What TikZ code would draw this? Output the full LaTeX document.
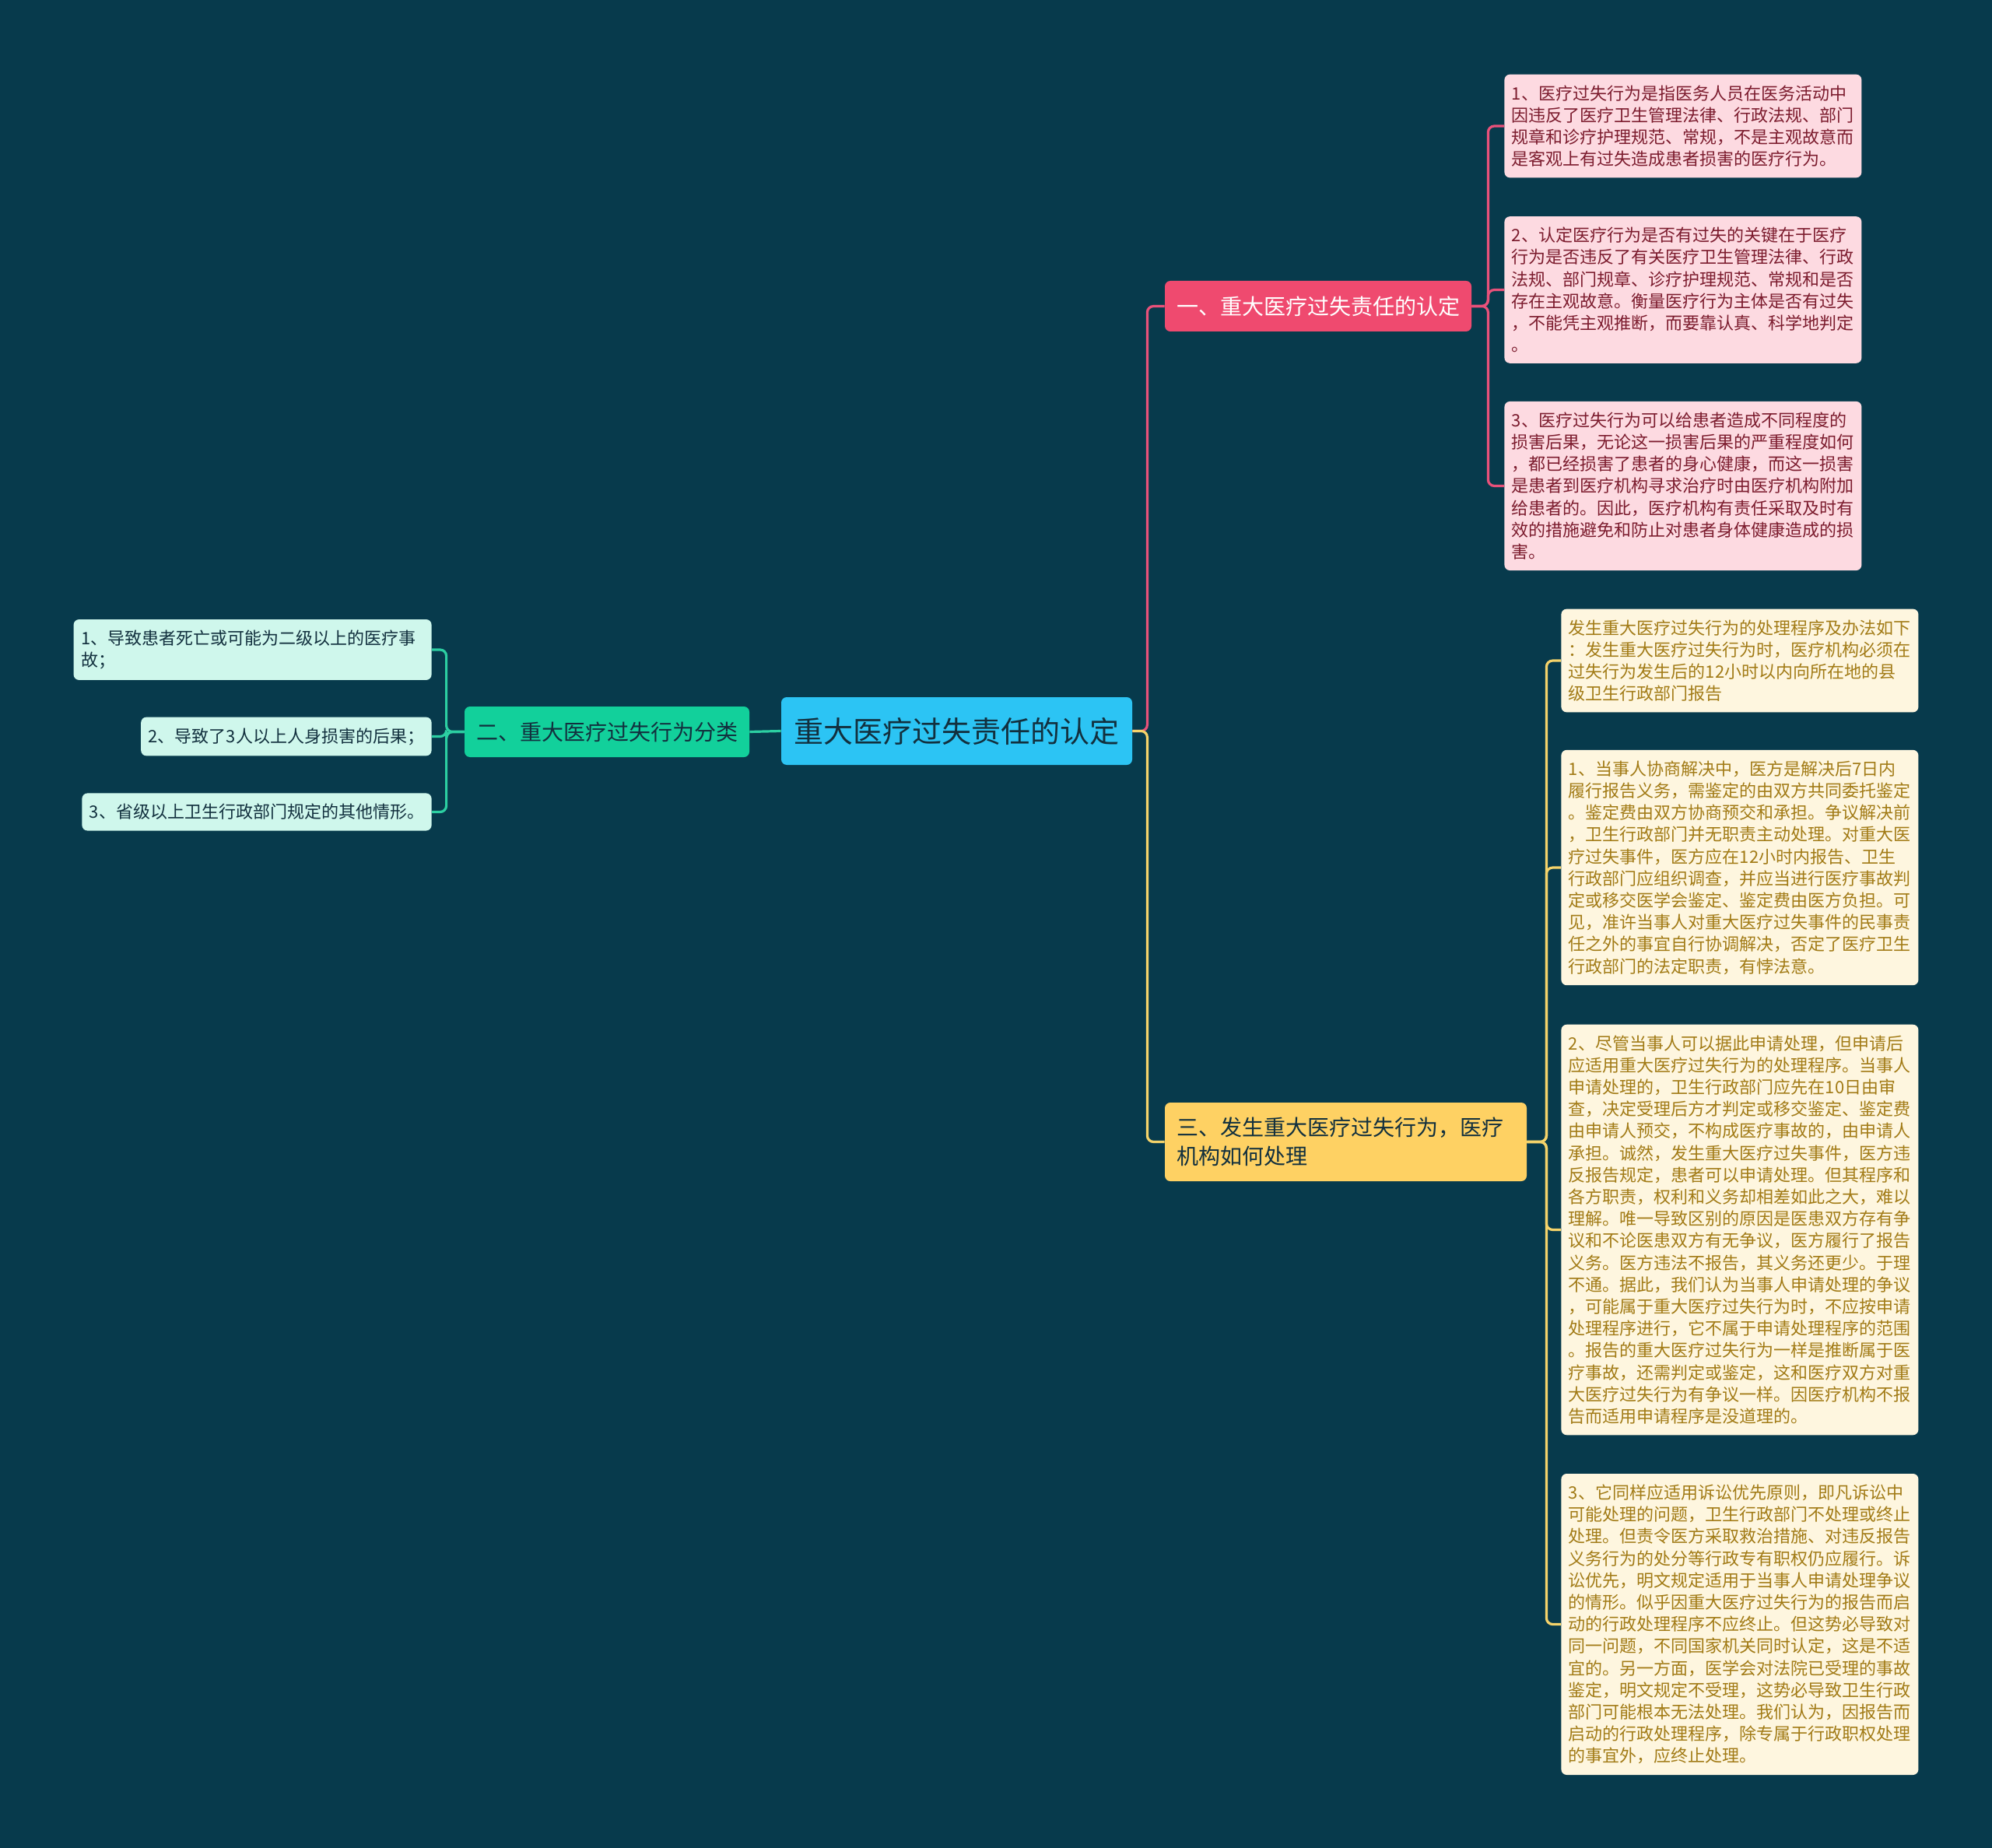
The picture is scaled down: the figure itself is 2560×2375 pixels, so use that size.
\documentclass[tikz,border=0pt]{standalone}
\usepackage{fontspec}
\newfontfamily\cjk{Noto Sans CJK SC}
\usepackage{tikz}
\definecolor{bgnavy}{HTML}{073A4C}
\definecolor{skyblue}{HTML}{2CC4F4}
\definecolor{rosered}{HTML}{EF4A6F}
\definecolor{jadegreen}{HTML}{12D09B}
\definecolor{sunyellow}{HTML}{FED163}
\definecolor{pinkleaf}{HTML}{FDDAE1}
\definecolor{creamleaf}{HTML}{FEF6DF}
\definecolor{mintleaf}{HTML}{CFF7EC}
\definecolor{winetext}{HTML}{7C1C2E}
\definecolor{goldtext}{HTML}{A27B16}
\definecolor{inktext}{HTML}{12303E}
\definecolor{roseline}{HTML}{E8517A}
\definecolor{sunline}{HTML}{F5D36A}
\definecolor{jadeline}{HTML}{2CCFA2}

\begin{document}
\begin{tikzpicture}[x=0.5pt,y=-0.5pt,
  rootbox/.style={fill=skyblue,rounded corners=3.5pt,minimum width=225.5pt,minimum height=43.5pt,text=inktext,font=\cjk\fontsize{19}{23}\selectfont},
  branch/.style={rounded corners=3.5pt,minimum height=32.5pt,inner xsep=7.5pt,font=\cjk\fontsize{14}{18.8}\selectfont},
  leaf/.style={rounded corners=3.5pt,inner xsep=4.75pt,inner ysep=6.9pt,align=left,font=\cjk\fontsize{11}{14.1}\selectfont},
  redleaf/.style={leaf,fill=pinkleaf,text=winetext,text width=220pt,anchor=west},
  yelleaf/.style={leaf,fill=creamleaf,text=goldtext,text width=220pt,anchor=west},
  grnleaf/.style={leaf,fill=mintleaf,text=inktext,anchor=east},
  link/.style={line width=1.6pt,rounded corners=4pt}
]
\fill[bgnavy] (0,0) rectangle (2560,2375);

% centre and main branches
\node[rootbox] (root) at (1229.5,939.5) {重大医疗过失责任的认定};
\node[branch,fill=rosered,text=white,minimum width=197pt] (red) at (1694,393.5) {一、重大医疗过失责任的认定};
\node[branch,fill=jadegreen,text=inktext,minimum width=182pt] (grn) at (780,940.5) {二、重大医疗过失行为分类};
\node[branch,fill=sunyellow,text=inktext,text width=217.5pt,align=left,minimum height=50.5pt] (yel) at (1729.5,1467.5) {三、发生重大医疗过失行为，医疗\\机构如何处理};

% branch one
\node[redleaf] (r1) at (1933,162) {1、医疗过失行为是指医务人员在医务活动中\\因违反了医疗卫生管理法律、行政法规、部门\\规章和诊疗护理规范、常规，不是主观故意而\\是客观上有过失造成患者损害的医疗行为。};
\node[redleaf] (r2) at (1933,372.5) {2、认定医疗行为是否有过失的关键在于医疗\\行为是否违反了有关医疗卫生管理法律、行政\\法规、部门规章、诊疗护理规范、常规和是否\\存在主观故意。衡量医疗行为主体是否有过失\\，不能凭主观推断，而要靠认真、科学地判定\\。};
\node[redleaf] (r3) at (1933,624.5) {3、医疗过失行为可以给患者造成不同程度的\\损害后果，无论这一损害后果的严重程度如何\\，都已经损害了患者的身心健康，而这一损害\\是患者到医疗机构寻求治疗时由医疗机构附加\\给患者的。因此，医疗机构有责任采取及时有\\效的措施避免和防止对患者身体健康造成的损\\害。};

% branch two
\node[grnleaf,text width=220.5pt] (g1) at (555,835) {1、导致患者死亡或可能为二级以上的医疗事\\故；};
\node[grnleaf] (g2) at (555,946.5) {2、导致了3人以上人身损害的后果；};
\node[grnleaf] (g3) at (555,1043.5) {3、省级以上卫生行政部门规定的其他情形。};

% branch three
\node[yelleaf] (y0) at (2006,849) {发生重大医疗过失行为的处理程序及办法如下\\：发生重大医疗过失行为时，医疗机构必须在\\过失行为发生后的12小时以内向所在地的县\\级卫生行政部门报告};
\node[yelleaf] (y1) at (2006,1115) {1、当事人协商解决中，医方是解决后7日内\\履行报告义务，需鉴定的由双方共同委托鉴定\\。鉴定费由双方协商预交和承担。争议解决前\\，卫生行政部门并无职责主动处理。对重大医\\疗过失事件，医方应在12小时内报告、卫生\\行政部门应组织调查，并应当进行医疗事故判\\定或移交医学会鉴定、鉴定费由医方负担。可\\见，准许当事人对重大医疗过失事件的民事责\\任之外的事宜自行协调解决，否定了医疗卫生\\行政部门的法定职责，有悖法意。};
\node[yelleaf] (y2) at (2006,1580.5) {2、尽管当事人可以据此申请处理，但申请后\\应适用重大医疗过失行为的处理程序。当事人\\申请处理的，卫生行政部门应先在10日由审\\查，决定受理后方才判定或移交鉴定、鉴定费\\由申请人预交，不构成医疗事故的，由申请人\\承担。诚然，发生重大医疗过失事件，医方违\\反报告规定，患者可以申请处理。但其程序和\\各方职责，权利和义务却相差如此之大，难以\\理解。唯一导致区别的原因是医患双方存有争\\议和不论医患双方有无争议，医方履行了报告\\义务。医方违法不报告，其义务还更少。于理\\不通。据此，我们认为当事人申请处理的争议\\，可能属于重大医疗过失行为时，不应按申请\\处理程序进行，它不属于申请处理程序的范围\\。报告的重大医疗过失行为一样是推断属于医\\疗事故，还需判定或鉴定，这和医疗双方对重\\大医疗过失行为有争议一样。因医疗机构不报\\告而适用申请程序是没道理的。};
\node[yelleaf] (y3) at (2006,2087.5) {3、它同样应适用诉讼优先原则，即凡诉讼中\\可能处理的问题，卫生行政部门不处理或终止\\处理。但责令医方采取救治措施、对违反报告\\义务行为的处分等行政专有职权仍应履行。诉\\讼优先，明文规定适用于当事人申请处理争议\\的情形。似乎因重大医疗过失行为的报告而启\\动的行政处理程序不应终止。但这势必导致对\\同一问题，不同国家机关同时认定，这是不适\\宜的。另一方面，医学会对法院已受理的事故\\鉴定，明文规定不受理，这势必导致卫生行政\\部门可能根本无法处理。我们认为，因报告而\\启动的行政处理程序，除专属于行政职权处理\\的事宜外，应终止处理。};

% connectors
\draw[link,roseline] (root.east) -- ++(19,0) |- (red.west);
\draw[link,sunline] (root.east) -- ++(19,0) |- (yel.west);
\draw[link,jadeline] (root.west) -- (grn.east);
\foreach \n in {r1,r2,r3}
  \draw[link,roseline] (red.east) -- ++(21,0) |- (\n.west);
\foreach \n in {g1,g2,g3}
  \draw[link,jadeline] (grn.west) -- ++(-23,0) |- (\n.east);
\foreach \n in {y0,y1,y2,y3}
  \draw[link,sunline] (yel.east) -- ++(25,0) |- (\n.west);
\end{tikzpicture}
\end{document}
